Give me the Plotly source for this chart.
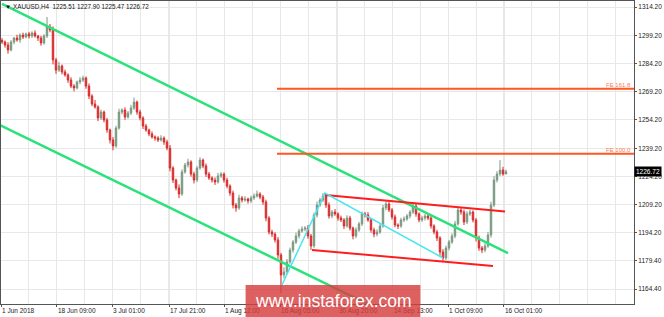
import plotly.graph_objects as go

# ---------------- data ----------------
first_open = 1296.5
closes = [
    1295.6, 1294.0, 1291.4, 1295.6, 1297.7, 1296.7, 1299.3, 1298.3, 1299.9, 1298.8,
    1300.4, 1298.8, 1297.7, 1295.1, 1298.8, 1303.6, 1302.0, 1286.1, 1280.7, 1282.9,
    1279.7, 1278.1, 1275.4, 1272.2, 1271.2, 1274.4, 1275.4, 1276.5, 1272.2, 1266.9,
    1262.7, 1261.1, 1255.3, 1258.4, 1254.2, 1248.9, 1243.6, 1240.4, 1249.9, 1258.4,
    1259.5, 1255.8, 1257.9, 1260.6, 1263.7, 1258.4, 1255.3, 1251.0, 1248.9, 1246.8,
    1245.2, 1244.6, 1243.6, 1244.6, 1242.5, 1239.3, 1228.7, 1222.3, 1218.1, 1214.9,
    1226.6, 1230.3, 1231.9, 1225.5, 1222.3, 1228.7, 1232.9, 1229.8, 1225.5, 1223.4,
    1222.3, 1221.3, 1224.5, 1225.5, 1222.3, 1219.1, 1215.4, 1209.0, 1207.5, 1212.8,
    1211.7, 1212.2, 1211.2, 1212.8, 1213.8, 1214.9, 1213.3, 1210.6, 1202.1, 1194.7,
    1193.6, 1190.5, 1182.5, 1171.9, 1173.5, 1178.8, 1185.1, 1189.4, 1192.6, 1195.2,
    1196.3, 1196.8, 1192.6, 1187.3, 1203.7, 1209.0, 1211.7, 1213.8, 1209.0, 1203.2,
    1205.3, 1204.3, 1202.1, 1201.1, 1197.9, 1202.1, 1196.8, 1192.6, 1195.8, 1199.0,
    1204.3, 1203.8, 1201.1, 1195.8, 1193.6, 1194.7, 1197.9, 1207.5, 1209.6, 1206.4,
    1202.7, 1198.4, 1197.9, 1201.1, 1201.6, 1203.2, 1205.3, 1208.5, 1204.3, 1201.1,
    1202.1, 1203.2, 1202.1, 1197.9, 1194.7, 1191.5, 1184.1, 1180.9, 1186.2, 1189.4,
    1192.6, 1199.0, 1206.4, 1205.3, 1200.0, 1204.3, 1205.3, 1201.1, 1191.5, 1186.2,
    1185.1, 1187.3, 1193.1, 1209.0, 1222.3, 1225.5, 1227.6, 1225.5, 1226.72,
]
upper_wick = [
    1.2, 0.8, 1.5, 1.0, 0.6, 1.8, 0.9, 1.3, 0.7, 1.1,
    0.9, 1.4, 0.6, 1.2, 1.0, 5.3, 1.6, 1.9, 1.1, 2.2,
    0.8, 1.3, 0.9, 1.5, 1.0, 0.7, 1.6, 1.2, 0.8, 1.4,
    1.0, 2.1, 0.9, 1.3, 0.8, 1.1, 0.7, 1.5, 1.2, 1.8,
    0.9, 1.4, 1.0, 1.6, 2.4, 0.8, 1.2, 0.9, 1.1, 0.7,
    1.3, 0.8, 1.0, 1.5, 0.9, 1.2, 1.6, 1.0, 0.8, 1.9,
    1.4, 1.1, 1.7, 0.9, 1.2, 1.0, 1.5, 0.8, 1.3, 1.1,
    0.9, 1.4, 1.6, 1.0, 0.8, 1.2, 0.9, 1.3, 1.1, 1.7,
    1.0, 1.5, 0.8, 1.2, 1.4, 1.8, 0.9, 1.1, 1.3, 1.0,
    1.2, 0.9, 1.5, 1.1, 2.4, 1.6, 1.3, 1.0, 1.8, 1.2,
    1.4, 1.0, 1.6, 1.1, 1.3, 1.9, 1.2, 1.6, 1.0, 1.4,
    1.1, 1.6, 0.9, 1.3, 1.0, 1.5, 1.2, 0.8, 1.4, 1.1,
    1.3, 1.0, 1.5, 0.9, 1.2, 1.4, 1.0, 1.6, 1.5, 1.1,
    1.0, 1.3, 0.9, 1.2, 1.4, 1.1, 1.0, 1.6, 1.2, 0.9,
    1.3, 1.0, 1.4, 1.1, 0.9, 1.2, 1.0, 1.5, 1.3, 1.1,
    1.4, 1.6, 1.2, 1.0, 1.3, 1.5, 1.2, 0.9, 1.1, 1.3,
    1.0, 1.4, 1.6, 1.8, 2.0, 1.5, 5.3, 1.7, 1.18,
]
lower_wick = [
    1.0, 1.4, 2.0, 0.8, 1.2, 0.9, 1.5, 1.1, 0.7, 1.3,
    1.0, 0.8, 1.6, 1.4, 0.9, 1.1, 1.2, 2.4, 2.0, 1.0,
    1.3, 0.9, 1.5, 1.1, 1.8, 0.8, 1.2, 1.0, 1.4, 1.6,
    1.1, 0.9, 1.7, 1.0, 1.3, 1.5, 1.9, 2.3, 1.0, 0.8,
    1.2, 1.5, 0.9, 1.1, 1.0, 1.4, 1.3, 1.6, 1.0, 1.2,
    0.9, 1.4, 1.1, 0.8, 1.5, 1.2, 1.8, 1.6, 1.3, 2.2,
    1.0, 0.9, 1.3, 1.4, 1.8, 1.1, 0.9, 1.2, 1.5, 1.0,
    1.3, 1.6, 0.9, 1.1, 1.4, 1.2, 1.5, 1.8, 2.0, 1.0,
    1.3, 0.9, 1.4, 1.1, 1.0, 0.8, 1.2, 1.5, 1.7, 1.3,
    1.6, 1.4, 2.0, 9.5, 1.8, 1.2, 1.0, 1.4, 1.1, 1.3,
    0.9, 1.2, 1.5, 2.1, 1.0, 1.3, 0.9, 1.1, 1.5, 1.4,
    1.2, 1.0, 1.4, 1.1, 1.6, 0.9, 1.3, 1.8, 1.2, 1.0,
    1.1, 1.4, 1.0, 1.5, 1.7, 1.2, 1.0, 0.9, 1.3, 1.1,
    1.4, 1.2, 1.6, 1.0, 1.1, 0.9, 1.3, 1.0, 1.5, 1.2,
    1.0, 1.3, 1.1, 1.4, 1.2, 1.6, 2.0, 1.5, 1.1, 1.3,
    1.0, 1.2, 0.9, 1.4, 1.6, 1.1, 1.0, 1.3, 1.8, 1.5,
    1.6, 1.2, 1.0, 1.4, 1.1, 1.3, 1.0, 0.9, 0.03,
]

x_labels = ["1 Jun 2018", "18 Jun 09:00", "3 Jul 01:00", "17 Jul 21:00", "1 Aug 12:00",
            "16 Aug 05:00", "30 Aug 20:00", "14 Sep 13:00", "1 Oct 09:00", "16 Oct 01:00"]
x_label_bars = [-0.33, 18.33, 36.67, 55.67, 74.0, 92.67, 112.0, 130.33, 148.67, 167.33]
y_tick_values = [1314.2, 1299.2, 1284.2, 1269.2, 1254.2, 1239.2, 1224.2, 1209.2, 1194.2, 1179.4, 1164.4]
y_tick_text = ["1314.20", "1299.20", "1284.20", "1269.20", "1254.20", "1239.20",
               "1224.20", "1209.20", "1194.20", "1179.40", "1164.40"]

header_text = "XAUUSD,H4  1225.51 1227.90 1225.47 1226.72"
last_price = 1226.72

# drawn objects: (bar index, price)
green_upper_bars, green_upper_prices = [0, 168.67], [1315.8, 1183.5]
green_lower_bars, green_lower_prices = [-0.67, 122.67], [1251.5, 1155.9]
red_upper_bars, red_upper_prices = [107.67, 167.67], [1214.3, 1205.6]
red_lower_bars, red_lower_prices = [103.33, 163.67], [1185.2, 1176.6]
cyan_bars, cyan_prices = [93, 107.67, 147], [1165.5, 1215.4, 1180.9]
fe_names = ["FE 161.8", "FE 100.0"]
fe_prices = [1270.8, 1236.2]
fe_start_bar = 91.67

x_range = [-0.333, 210.67]
y_range = [1156.47, 1317.39]

# ---------------- build OHLC ----------------
bars = list(range(len(closes)))
opens = [first_open] + closes[:-1]
highs = [max(o, c) + u for o, c, u in zip(opens, closes, upper_wick)]
lows = [min(o, c) - l for o, c, l in zip(opens, closes, lower_wick)]

fig = go.Figure()
fig.add_trace(go.Candlestick(
    x=bars, open=opens, high=highs, low=lows, close=closes,
    increasing=dict(line=dict(color="#7c9682", width=1), fillcolor="#63a872"),
    decreasing=dict(line=dict(color="#d92b2b", width=1), fillcolor="#e03434"),
    whiskerwidth=0, showlegend=False, hoverinfo="skip",
))

def add_line(xs, ys, color, width):
    fig.add_trace(go.Scatter(x=xs, y=ys, mode="lines", line=dict(color=color, width=width),
                             showlegend=False, hoverinfo="skip"))

add_line(green_upper_bars, green_upper_prices, "#2ae27a", 2.5)
add_line(green_lower_bars, green_lower_prices, "#2ae27a", 2.5)
add_line(red_upper_bars, red_upper_prices, "#ff1c1c", 2)
add_line(red_lower_bars, red_lower_prices, "#ff1c1c", 2)
add_line(cyan_bars, cyan_prices, "#44e6f2", 1.5)
for name, p in zip(fe_names, fe_prices):
    add_line([fe_start_bar, x_range[1]], [p, p], "#ff5722", 2)
    fig.add_annotation(x=1, xref="paper", y=p, yref="y", text=name, showarrow=False,
                       xanchor="right", yanchor="bottom", xshift=-1, yshift=-1,
                       font=dict(family="Liberation Sans", size=6, color="#ff7a50"))

# header
fig.add_annotation(x=0, xref="paper", y=1, yref="paper", text="▼ " + header_text,
                   showarrow=False, xanchor="left", yanchor="top", xshift=2, yshift=0,
                   font=dict(family="Liberation Sans", size=6.3, color="#111"))

# current price box
fig.add_annotation(x=1, xref="paper", y=last_price, yref="y", text=f"{last_price:.2f}",
                   showarrow=False, xanchor="left", yanchor="middle", xshift=0,
                   bgcolor="#000", borderpad=1,
                   font=dict(family="Liberation Sans", size=6.5, color="#fff"))

# watermark
fig.add_shape(type="rect", xref="paper", yref="paper", x0=0.3864, x1=0.6625, y0=-0.045, y1=0.0625,
              fillcolor="rgba(214,62,62,0.82)", line=dict(width=0), layer="above")
fig.add_annotation(x=0.5245, xref="paper", y=0.009, yref="paper", text="www.instaforex.com",
                   showarrow=False, xanchor="center", yanchor="middle",
                   font=dict(family="Liberation Sans", size=17.5, color="#ffffff"))

fig.update_layout(
    width=664, height=317,
    margin=dict(l=1, r=30, t=1, b=13),
    paper_bgcolor="#ffffff", plot_bgcolor="#ffffff",
    xaxis=dict(range=x_range, rangeslider=dict(visible=False), tickmode="array",
               tickvals=x_label_bars, ticktext=x_labels, ticklabelposition="outside right",
               ticks="outside", ticklen=2, tickcolor="#555", showgrid=True, gridcolor="#e8e8e8",
               gridwidth=1,
               minor=dict(tickmode="linear", tick0=-0.33, dtick=9.315, showgrid=True,
                          gridcolor="#e8e8e8", ticks=""),
               showline=True, linecolor="#555", linewidth=1, mirror=True, zeroline=False,
               tickfont=dict(family="Liberation Sans", size=6.5, color="#222")),
    yaxis=dict(range=y_range, side="right", tickmode="array", tickvals=y_tick_values,
               ticktext=y_tick_text, ticks="outside", ticklen=2, tickcolor="#555",
               showgrid=True, gridcolor="#e8e8e8", showline=True, linecolor="#555",
               linewidth=1, mirror=True, zeroline=False,
               tickfont=dict(family="Liberation Sans", size=6.5, color="#222")),
)

fig.write_html("out.html")
